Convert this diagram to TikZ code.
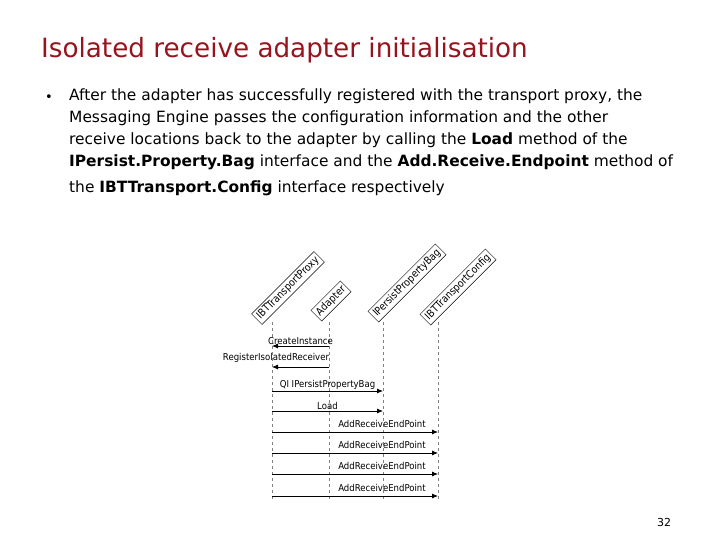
\documentclass[tikz,border=0pt]{standalone}
\usepackage{fontspec}
\setmainfont{DejaVu Sans}
\newfontfamily\titlefont{DejaVu Sans Condensed}
\usetikzlibrary{arrows.meta}
\definecolor{titlered}{RGB}{150,20,30}
\tikzset{
 lbox/.style={draw, thin, rotate=45, font=\fontsize{10.5}{11}\selectfont\addfontfeature{FakeStretch=0.88}, inner sep=2.5pt, anchor=center},
 life/.style={dash pattern=on 3pt off 3pt, gray, thin},
 msg/.style={-{Latex[length=6pt,width=5pt]}, thick},
 mlab/.style={font=\fontsize{9.5}{10}\selectfont\addfontfeature{FakeStretch=0.9}, inner sep=1pt, anchor=south}
}
\begin{document}
\begin{tikzpicture}[x=1pt,y=-1pt]
\useasboundingbox (0,0) rectangle (720,540);
\node[anchor=west, text=titlered, font=\titlefont\addfontfeature{FakeStretch=1.1}\fontsize{26.5}{28}\selectfont, inner sep=0] (title) at (41,50) {Isolated receive adapter initialisation};
\node[anchor=center, font=\fontsize{13}{15}\selectfont, inner sep=0] (bul) at (49,98) {•};
\node[anchor=north west, align=left, font=\addfontfeature{FakeStretch=0.995}\fontsize{15.5}{21.8}\selectfont, inner sep=0] (body) at (69,89)
{After the adapter has successfully registered with the transport proxy, the\\
Messaging Engine passes the configuration information and the other\\
receive locations back to the adapter by calling the \textbf{Load} method of the\\
\textbf{IPersist.Property.Bag} interface and the \textbf{Add.Receive.Endpoint} method of\\[4pt]
the \textbf{IBTTransport.Config} interface respectively};
% lifeline boxes
\node[lbox] (p) at (288,288) {IBTTransportProxy};
\node[lbox] (a) at (331,301) {Adapter};
\node[lbox] (b) at (407,283) {IPersistPropertyBag};
\node[lbox] (c) at (458,287) {IBTTransportConfig};
\coordinate (p1) at (272,322); \coordinate (p2) at (272,500);
\coordinate (a1) at (329,322); \coordinate (a2) at (329,500);
\coordinate (b1) at (383,322); \coordinate (b2) at (383,500);
\coordinate (c1) at (438,322); \coordinate (c2) at (438,500);
\draw[life] (p1) -- (p2);
\draw[life] (a1) -- (a2);
\draw[life] (b1) -- (b2);
\draw[life] (c1) -- (c2);
\draw[msg] (329,346) -- node[mlab, pos=0.5] (m1) {CreateInstance} (272,346);
\draw[msg] (329,367) -- (272,367);
\node[mlab] (m2) at (276,364) {RegisterIsolatedReceiver};
\draw[msg] (272,391) -- node[mlab] (m3) {QI IPersistPropertyBag} (383,391);
\draw[msg] (272,411) -- node[mlab] (m4) {Load} (383,411);
\foreach \yy/\nm in {432/e1,453/e2,474/e3,496/e4}{
 \draw[msg] (272,\yy) -- (438,\yy);
 \node[mlab] (\nm) at (382,\yy-3) {AddReceiveEndPoint};
}
\node[font=\fontsize{11}{12}\selectfont] (pg) at (664,522) {32};
\end{tikzpicture}
\end{document}
